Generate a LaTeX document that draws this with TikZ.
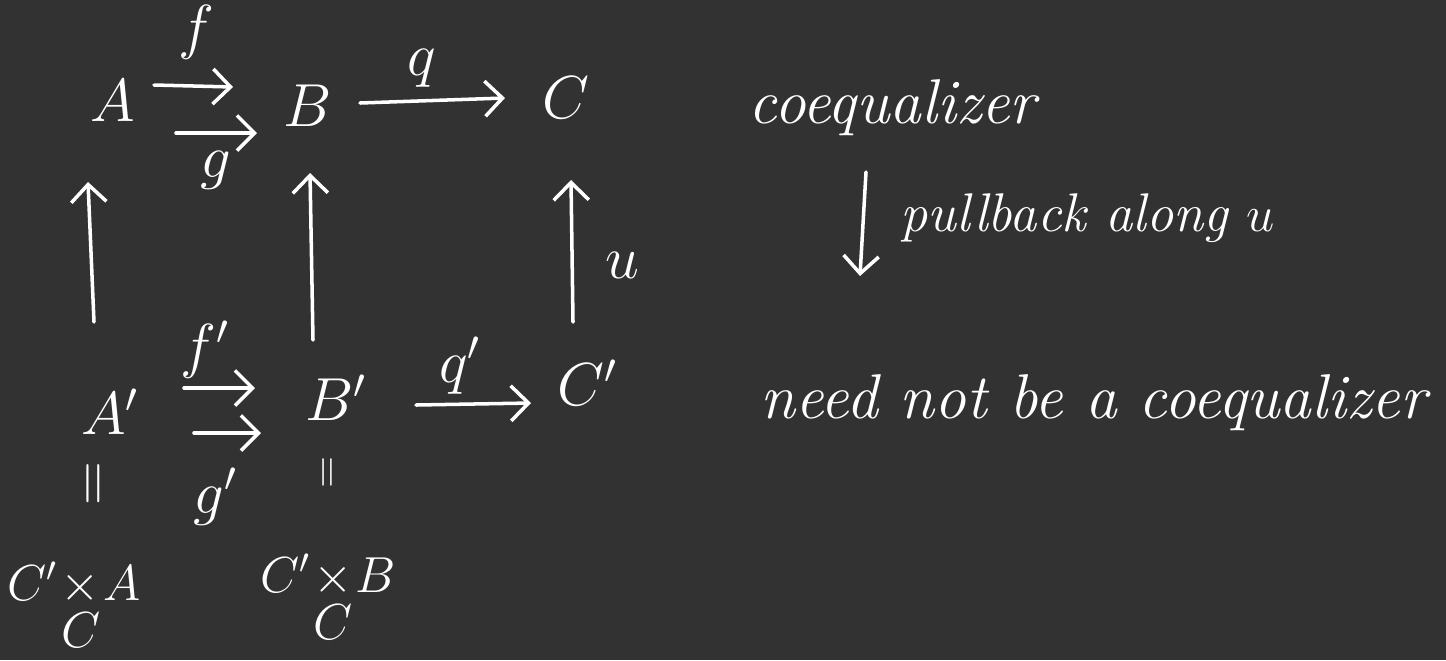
\documentclass[tikz,border=0pt]{standalone}
\usepackage{amsmath}
\usepackage{graphicx}
\usetikzlibrary{arrows.meta,calc}
\definecolor{bg}{HTML}{323232}
\begin{document}
\begin{tikzpicture}[x=0.01cm,y=-0.01cm,
  lbl/.style={text=white,font=\fontsize{17}{20}\selectfont, inner sep=0pt},
  obj/.style={text=white,font=\fontsize{18}{22}\selectfont, inner sep=0pt},
  prod/.style={text=white,font=\fontsize{14.5}{18}\selectfont, inner sep=0pt, anchor=base},
  txt/.style={text=white,font=\fontsize{18}{22}\selectfont\itshape, inner sep=0pt},
  arr/.style={draw=white,line width=1pt,-{Straight Barb[length=5pt,width=10pt]}, line cap=round}]
\fill[bg] (0,0) rectangle (1446,660);
\useasboundingbox (0,0) rectangle (1446,660);
% top row
\node[obj] (A) at (113,101) {$A$};
\node[obj] (B) at (308,106) {$B$};
\node[obj] (C) at (566,98) {$C$};
\node[lbl] (f) at (196,32) {$f$};
\node[lbl] (g) at (216,170) {$g$};
\node[lbl] (q) at (422,68) {$q$};
% bottom row
\node[obj] (Ap) at (110,412) {$A'$};
\node[obj] (Bp) at (336,398) {$B'$};
\node[obj] (Cp) at (588,383) {$C'$};
\node[lbl] (fp) at (205,350) {$f'$};
\node[lbl] (gp) at (216,497) {$g'$};
\node[lbl] (qp) at (460,366) {$q'$};
\node[lbl] (u) at (622,265) {$u$};
% equalities
\node[lbl] (eqA) at (98,484) {\rotatebox{90}{$=$}};
\node[lbl,font=\fontsize{12}{14}\selectfont] (eqB) at (330,472) {\rotatebox{90}{$=$}};
% pullbacks
\node[prod] (PA) at (74,600) {$C'\!\underset{\textstyle C}{\times}\!A$};
\node[prod] (PB) at (328,592) {$C'\!\underset{\textstyle C}{\times}\!B$};
% arrows top
\draw[arr] ($(A)+(41,-16)$) -- ($(B)+(-75,-19)$);
\draw[arr] ($(A)+(63,32)$) -- ($(B)+(-51,27)$);
\draw[arr] ($(B)+(52,-3)$) -- ($(C)+(-61,0)$);
% vertical arrows
\draw[arr] ($(Ap)+(-16,-90)$) -- ($(A)+(-25,81)$);
\draw[arr] ($(Bp)+(-23,-58)$) -- ($(B)+(2,67)$);
\draw[arr] ($(Cp)+(-15,-61)$) -- ($(C)+(5,82)$);
% bottom arrows
\draw[arr] ($(Ap)+(74,-24)$) -- ($(Bp)+(-81,-10)$);
\draw[arr] ($(Ap)+(84,21)$) -- ($(Bp)+(-75,35)$);
\draw[arr] ($(Bp)+(80,7)$) -- ($(Cp)+(-57,20)$);
% text
\node[txt,anchor=west] (coeq) at (748,108) {coequalizer};
\coordinate (pbT) at (866,172);
\coordinate (pbB) at (860,276);
\draw[arr] (pbT) -- (pbB);
\node[txt,anchor=west,font=\fontsize{15.5}{19}\selectfont\itshape] (pb) at (900,218) {pullback along $u$};
\node[txt,anchor=west] (need) at (760,403) {need not be a coequalizer};
\end{tikzpicture}
\end{document}
